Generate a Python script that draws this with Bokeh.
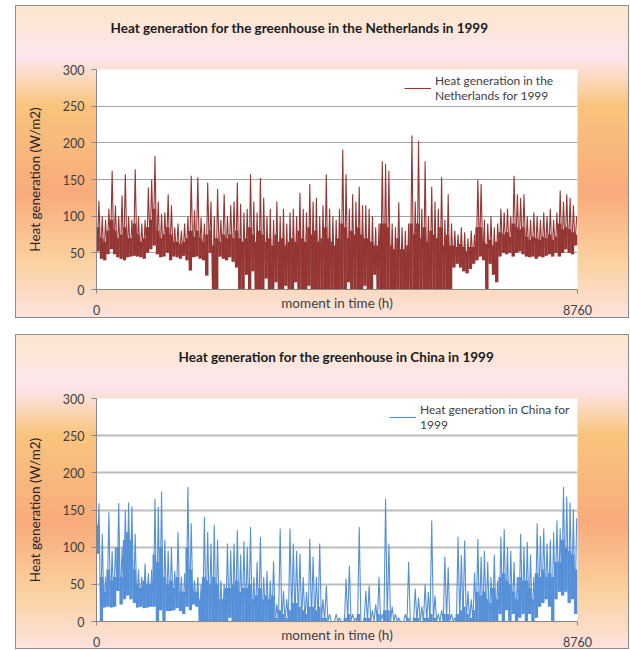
from bokeh.plotting import figure
from bokeh.models import Range1d, FixedTicker, Legend, LegendItem, Spacer, Title
from bokeh.layouts import column, row
from bokeh.embed import file_html
from bokeh.resources import INLINE

HOURS = 8760
BIN = 60  # hours per bin: min / typical / max

y_ticks = [0, 50, 100, 150, 200, 250, 300]
x_ticks = [0, 8760]

nl_title = "Heat generation for the greenhouse in the Netherlands in 1999"
cn_title = "Heat generation for the greenhouse in China in 1999"
nl_legend = "Heat generation in the\nNetherlands for 1999"
cn_legend = "Heat generation in China for\n1999"
x_label = "moment in time (h)"
y_label = "Heat generation (W/m2)"

nl_hi = [121, 100, 95, 110, 162, 115, 100, 128, 157, 100,
         95, 164, 100, 90, 95, 139, 150, 182, 120, 103,
         105, 130, 115, 85, 90, 80, 90, 100, 155, 108,
         153, 98, 90, 146, 120, 100, 137, 95, 130, 100,
         115, 120, 146, 117, 105, 110, 157, 120, 105, 152,
         125, 100, 110, 95, 120, 100, 110, 90, 105, 110,
         100, 132, 110, 105, 144, 120, 125, 100, 115, 157,
         110, 100, 95, 110, 191, 157, 110, 130, 120, 140,
         115, 115, 110, 100, 85, 90, 175, 171, 162, 90,
         85, 119, 85, 80, 90, 210, 120, 203, 110, 175,
         100, 140, 120, 110, 153, 95, 130, 90, 80, 75,
         85, 78, 70, 80, 75, 150, 144, 95, 90, 100,
         85, 90, 110, 105, 110, 100, 155, 130, 125, 130,
         100, 95, 105, 100, 95, 105, 100, 110, 95, 105,
         135, 120, 130, 125, 115, 100]
nl_mid = [85, 70, 65, 80, 95, 80, 70, 75, 85, 70,
          70, 90, 75, 65, 70, 85, 95, 110, 80, 70,
          75, 85, 75, 65, 65, 62, 65, 70, 80, 72,
          80, 70, 65, 75, 80, 60, 70, 65, 75, 70,
          75, 70, 80, 70, 65, 70, 85, 75, 65, 80,
          75, 65, 70, 60, 75, 65, 70, 60, 65, 70,
          65, 80, 70, 65, 85, 75, 80, 65, 70, 85,
          70, 65, 60, 70, 90, 85, 70, 80, 75, 85,
          75, 70, 70, 65, 60, 60, 90, 90, 85, 60,
          55, 70, 55, 55, 60, 90, 75, 90, 70, 85,
          65, 80, 75, 70, 85, 60, 75, 60, 60, 58,
          62, 58, 52, 58, 58, 85, 85, 65, 62, 68,
          60, 65, 78, 75, 78, 72, 90, 85, 82, 85,
          72, 68, 72, 70, 68, 72, 70, 75, 68, 72,
          90, 82, 85, 82, 78, 75]
nl_lo = [52, 42, 40, 48, 55, 48, 44, 42, 40, 44,
         45, 46, 45, 44, 42, 50, 55, 60, 48, 44,
         45, 50, 40, 45, 44, 42, 46, 40, 26, 44,
         45, 42, 40, 19, 50, 0, 0, 45, 42, 40,
         44, 38, 30, 0, 0, 20, 0, 25, 0, 0,
         0, 15, 0, 0, 10, 0, 0, 5, 0, 0,
         10, 0, 0, 0, 5, 0, 0, 0, 0, 0,
         0, 0, 0, 0, 0, 0, 10, 0, 0, 0,
         0, 5, 0, 0, 20, 0, 0, 0, 0, 0,
         0, 0, 0, 0, 0, 0, 0, 0, 0, 0,
         0, 0, 0, 0, 0, 0, 0, 0, 30, 35,
         30, 25, 22, 28, 35, 40, 45, 40, 0, 35,
         20, 10, 45, 50, 48, 50, 45, 50, 52, 48,
         45, 44, 45, 42, 45, 44, 46, 48, 45, 50,
         45, 50, 55, 50, 48, 60]

cn_hi = [159, 118, 60, 147, 95, 100, 159, 100, 150, 160,
         155, 118, 70, 60, 78, 65, 70, 165, 154, 175,
         110, 95, 100, 68, 120, 60, 65, 181, 132, 55,
         60, 50, 141, 120, 105, 130, 110, 55, 50, 105,
         96, 105, 123, 90, 108, 100, 127, 60, 80, 114,
         60, 68, 55, 81, 23, 125, 41, 30, 125, 105,
         95, 91, 60, 40, 111, 87, 60, 105, 30, 48,
         10, 0, 10, 5, 0, 57, 75, 10, 5, 127,
         0, 41, 48, 15, 23, 60, 10, 165, 105, 20,
         10, 5, 0, 10, 80, 0, 44, 32, 20, 50,
         40, 136, 35, 10, 15, 87, 73, 10, 5, 114,
         89, 109, 41, 30, 66, 111, 87, 95, 80, 60,
         90, 55, 114, 124, 100, 95, 80, 60, 118, 100,
         107, 90, 60, 132, 115, 125, 105, 110, 120, 136,
         125, 181, 168, 160, 150, 139]
cn_mid = [130, 60, 40, 70, 55, 60, 100, 60, 110, 120,
          110, 70, 50, 45, 55, 50, 50, 90, 80, 100,
          60, 50, 55, 45, 60, 40, 40, 100, 70, 40,
          40, 30, 60, 55, 50, 60, 50, 30, 30, 45,
          45, 50, 55, 40, 45, 45, 50, 30, 35, 45,
          30, 35, 30, 35, 5, 15, 10, 5, 15, 25,
          25, 20, 15, 10, 20, 20, 15, 20, 5, 5,
          0, 0, 0, 0, 0, 5, 10, 0, 0, 10,
          0, 5, 5, 0, 0, 10, 0, 15, 15, 0,
          0, 0, 0, 0, 5, 0, 5, 5, 0, 5,
          5, 10, 5, 0, 0, 10, 10, 0, 0, 10,
          15, 20, 10, 5, 15, 40, 35, 40, 30, 25,
          45, 30, 60, 65, 55, 50, 40, 30, 60, 55,
          55, 45, 30, 65, 60, 70, 60, 65, 60, 80,
          80, 110, 100, 95, 90, 70]
cn_lo = [91, 0, 19, 20, 19, 20, 41, 23, 30, 35,
         30, 25, 19, 20, 18, 19, 20, 20, 0, 15,
         0, 14, 14, 15, 18, 14, 10, 20, 15, 23,
         20, 0, 0, 0, 0, 0, 0, 0, 0, 0,
         5, 0, 0, 0, 0, 0, 0, 0, 0, 0,
         0, 0, 0, 0, 0, 0, 0, 0, 0, 0,
         0, 0, 0, 0, 0, 0, 0, 0, 0, 0,
         0, 0, 0, 0, 0, 0, 0, 0, 0, 0,
         0, 0, 0, 0, 0, 0, 0, 0, 0, 0,
         0, 0, 0, 0, 0, 0, 0, 0, 0, 0,
         0, 0, 0, 0, 0, 0, 0, 0, 0, 0,
         0, 0, 0, 0, 0, 0, 0, 0, 0, 0,
         0, 0, 10, 0, 15, 0, 10, 0, 5, 10,
         0, 10, 0, 5, 20, 25, 30, 20, 0, 30,
         40, 35, 40, 25, 30, 10]

FONT = "Lato"
TXT = "#404040"
GRAD = ("linear-gradient(to bottom, #fbe6cd 0%, #fde6ec 17%, #f9c47d 32%, "
        "#f9ab7b 60%, #fbd19f 82%, #fde3e0 100%)")


def envelope(lo, hi):
    xs, ys = [], []
    for i, (l, h) in enumerate(zip(lo, hi)):
        xs += [i * BIN + BIN * 0.25, i * BIN + BIN * 0.75]
        ys += [l, h]
    return xs, ys


def panel(lo, mid, hi, color, title, title_offset,
          legend_text, height, b_bottom, frame_h, grid_color, grid_w,
          legend_loc):
    p = figure(width=614, height=height, output_backend="svg",
               toolbar_location=None,
               x_range=Range1d(0, HOURS), y_range=Range1d(0, 300),
               min_border_left=81, min_border_right=52,
               min_border_top=height - frame_h - b_bottom,
               min_border_bottom=b_bottom)
    p.border_fill_color = None
    p.background_fill_color = "white"
    p.outline_line_color = None
    p.styles = {"background": GRAD, "box-shadow": "inset 0 0 0 1px #8c8c8c"}

    xc = [i * BIN + BIN * 0.5 for i in range(len(lo))]
    # dense core of the hourly trace (bin minimum to typical level)
    p.vbar(x=xc, width=BIN, bottom=lo, top=mid, fill_color=color,
           line_color=None)
    xs, ys = envelope(lo, hi)
    r = p.line(xs, ys, line_color=color, line_width=1.1)

    # blank spacer title next to the frame pushes the real title upward
    p.add_layout(Title(text=" ", standoff=16, text_font=FONT,
                       text_font_size="13.5px"), "above")

    p.title.text = title
    p.title.align = "left"
    p.title.offset = title_offset
    p.title.standoff = 0
    p.title.text_font = FONT
    p.title.text_font_style = "bold"
    p.title.text_font_size = "13.5px"
    p.title.text_color = "#1a1a1a"

    p.xgrid.visible = False
    p.ygrid.grid_line_color = grid_color
    p.ygrid.grid_line_width = grid_w
    p.yaxis.ticker = FixedTicker(ticks=y_ticks)
    p.xaxis.ticker = FixedTicker(ticks=x_ticks)
    for ax in (p.xaxis[0], p.yaxis[0]):
        ax.axis_line_color = "#868686"
        ax.major_tick_line_color = "#868686"
        ax.minor_tick_line_color = None
        ax.major_tick_in = 0
        ax.major_label_text_font = FONT
        ax.major_label_text_font_size = "12.5px"
        ax.major_label_text_color = TXT
        ax.axis_label_text_font = FONT
        ax.axis_label_text_font_style = "normal"
        ax.axis_label_text_font_size = "13.5px"
    p.yaxis.major_tick_out = 5
    p.xaxis.major_tick_out = 4
    p.yaxis.major_label_standoff = 7
    p.xaxis.major_label_standoff = 11
    p.yaxis.axis_label = y_label
    p.yaxis.axis_label_text_color = "#262626"
    p.yaxis.axis_label_standoff = 17
    p.xaxis.axis_label = x_label
    p.xaxis.axis_label_text_color = TXT
    p.xaxis.axis_label_standoff = -23

    leg = Legend(items=[LegendItem(label=legend_text, renderers=[r])],
                 location=legend_loc, glyph_width=27, glyph_height=14,
                 label_standoff=4, padding=2, margin=0,
                 background_fill_alpha=0, border_line_color=None,
                 label_text_font=FONT, label_text_font_size="12px",
                 label_text_color=TXT, label_text_line_height=1.3)
    p.add_layout(leg)
    return p


p1 = panel(nl_lo, nl_mid, nl_hi, "#943634", nl_title, 14, nl_legend,
           313, 29, 220, "#a3a3a3", 1.2, (308, 186))
p2 = panel(cn_lo, cn_mid, cn_hi, "#5590d8", cn_title, 82, cn_legend,
           315, 28, 223, "#bcbcbc", 1.8, (293, 189))

layout = column(Spacer(height=5), row(Spacer(width=15), p1),
                Spacer(height=16), row(Spacer(width=15), p2))

open("out.html", "w").write(file_html(layout, INLINE))
